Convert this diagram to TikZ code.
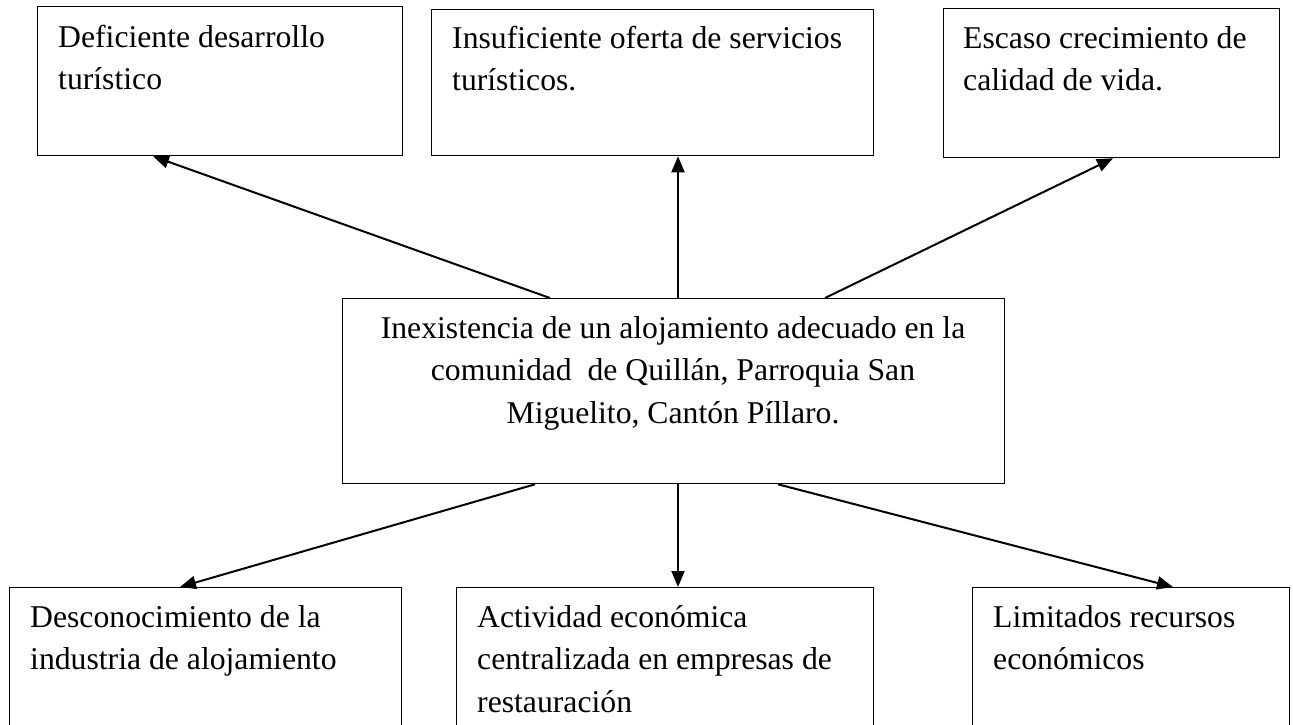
\documentclass[tikz,border=0pt]{standalone}
\usepackage{fontspec}
\setmainfont{Liberation Serif}
\usetikzlibrary{arrows.meta}
\begin{document}
\begin{tikzpicture}[x=1pt,y=-1pt,
  box/.style={draw,line width=1.3pt,rectangle,inner sep=0pt,anchor=north west},
  txt/.style={anchor=base west,inner sep=0pt,align=left,font=\fontsize{31.7}{42.5}\selectfont},
  ctxt/.style={anchor=base,inner sep=0pt,align=center,font=\fontsize{31.7}{42.5}\selectfont},
  arr/.style={line width=2pt,-{Triangle[length=16pt,width=13pt]}}]
\useasboundingbox (0,0) rectangle (1293,725);
\clip (0,0) rectangle (1293,725);
% boxes
\node[box,minimum width=365pt,minimum height=149pt] (b1) at (37,6) {};
\node[box,minimum width=442pt,minimum height=146pt] (b2) at (431,9) {};
\node[box,minimum width=336pt,minimum height=149pt] (b3) at (943,8) {};
\node[box,minimum width=662pt,minimum height=185pt] (c) at (342,298) {};
\node[box,minimum width=392pt,minimum height=200pt] (b4) at (9,587) {};
\node[box,minimum width=417pt,minimum height=200pt] (b5) at (456,587) {};
\node[box,minimum width=317pt,minimum height=200pt] (b6) at (972,587) {};
% texts (anchored at the baseline of their last line)
\node[txt] (t1) at (58,89.5) {Deficiente desarrollo\\turístico};
\node[txt] (t2) at (452,90.5) {Insuficiente oferta de servicios\\turísticos.};
\node[txt] (t3) at (963,90.5) {Escaso crecimiento de\\calidad de vida.};
\node[ctxt] (tc) at (673,423) {Inexistencia de un alojamiento adecuado en la\\comunidad \ de Quillán, Parroquia San\\Miguelito, Cantón Píllaro.};
\node[txt] (t4) at (30,669.5) {Desconocimiento de la\\industria de alojamiento};
\node[txt] (t5) at (477,712) {Actividad económica\\centralizada en empresas de\\restauración};
\node[txt] (t6) at (993,669.5) {Limitados recursos\\económicos};
% arrows
\draw[arr] ([xshift=208pt]c.north west) -- ([xshift=116pt]b1.south west);
\draw[arr] ([xshift=336pt]c.north west) -- ([xshift=247pt]b2.south west);
\draw[arr] ([xshift=483pt]c.north west) -- ([xshift=170pt]b3.south west);
\draw[arr] ([xshift=193pt]c.south west) -- ([xshift=171pt]b4.north west);
\draw[arr] ([xshift=336pt]c.south west) -- ([xshift=222pt]b5.north west);
\draw[arr] ([xshift=436pt]c.south west) -- ([xshift=201pt]b6.north west);
\end{tikzpicture}
\end{document}
